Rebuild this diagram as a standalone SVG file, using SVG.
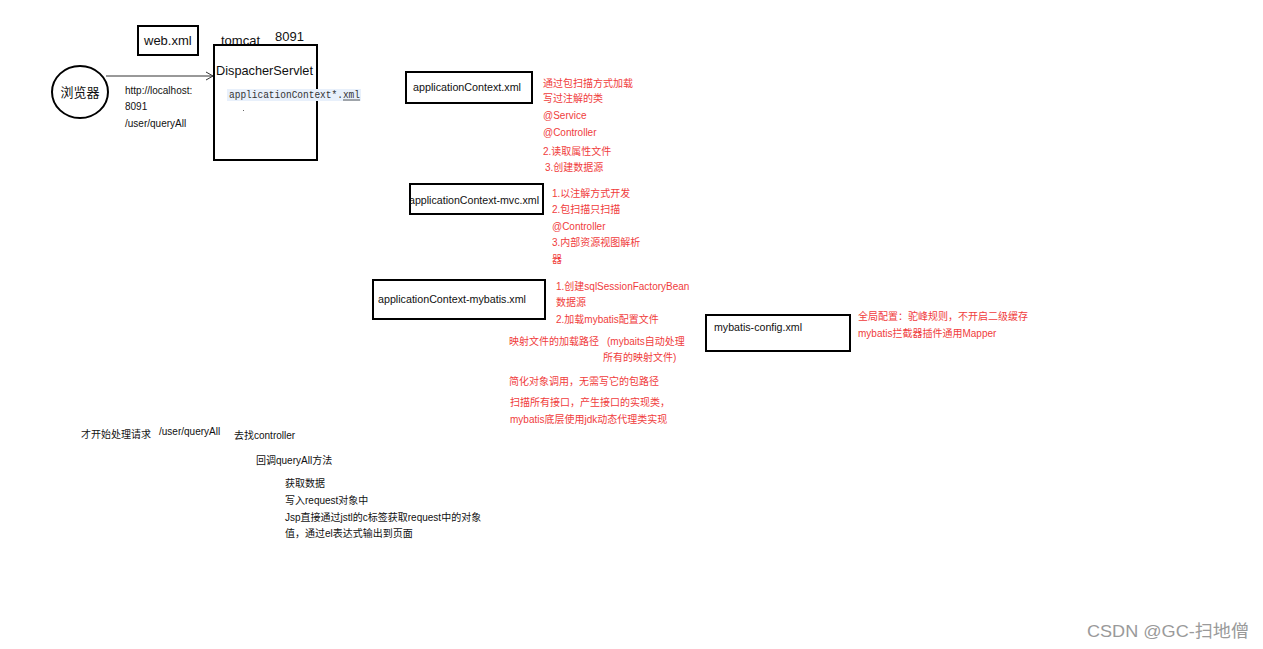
<svg xmlns="http://www.w3.org/2000/svg" width="1263" height="649" viewBox="0 0 1263 649">
<style>
text{font-family:"Liberation Sans","Noto Sans CJK SC",sans-serif;fill:#111}
.box{fill:#fff;stroke:#000;stroke-width:2}
.lb{font-size:11px}
.big{font-size:13px}
.r{font-size:10px;fill:#f03c3c}
.s{font-size:10px}
.mono{font-family:"Liberation Mono","DejaVu Sans Mono",monospace;font-size:10px;fill:#333}
</style>
<rect width="1263" height="649" fill="#fff"/>
<g id="browser">
<ellipse cx="80" cy="92" rx="28" ry="26" fill="#fff" stroke="#000" stroke-width="2"/>
<text x="80" y="97" text-anchor="middle" style="font-size:13px">浏览器</text>
</g>
<g id="webxml">
<rect class="box" x="138" y="26" width="60" height="29"/>
<text class="big" x="144" y="45">web.xml</text>
</g>
<g id="tomcat">
<text class="big" x="221" y="45">tomcat</text>
<text class="big" x="275" y="41">8091</text>
<rect class="box" x="214" y="45" width="103" height="115"/>
<text class="big" x="216" y="75" textLength="97" lengthAdjust="spacingAndGlyphs">DispacherServlet</text>
<rect x="227" y="89" width="134" height="12" fill="#e8f0fb"/>
<text class="mono" x="229" y="98" textLength="131" lengthAdjust="spacingAndGlyphs">applicationContext*.xml</text>
<line x1="343" y1="100" x2="360" y2="100" stroke="#333" stroke-width="0.8"/>
<rect x="243" y="110" width="1" height="1" fill="#666"/>
</g>
<g id="connectors">
<line x1="106" y1="76" x2="213" y2="76" stroke="#333" stroke-width="1"/>
<polyline points="206,72 213,76 206,80" fill="none" stroke="#333" stroke-width="1"/>
</g>
<g id="request-label">
<text class="s" x="125" y="94">http://localhost:</text>
<text class="s" x="125" y="110">8091</text>
<text class="s" x="125" y="127">/user/queryAll</text>
</g>
<g id="appctx">
<rect class="box" x="406" y="72" width="126" height="31"/>
<text class="lb" x="413" y="91" textLength="108" lengthAdjust="spacingAndGlyphs">applicationContext.xml</text>
<text class="r" x="543" y="87">通过包扫描方式加载</text>
<text class="r" x="543" y="102">写过注解的类</text>
<text class="r" x="543" y="119">@Service</text>
<text class="r" x="543" y="136">@Controller</text>
<text class="r" x="543" y="155">2.读取属性文件</text>
<text class="r" x="545" y="171">3.创建数据源</text>
</g>
<g id="appctx-mvc">
<rect class="box" x="410" y="184" width="133" height="30"/>
<text class="lb" x="409" y="204" textLength="130" lengthAdjust="spacingAndGlyphs">applicationContext-mvc.xml</text>
<text class="r" x="552" y="197">1.以注解方式开发</text>
<text class="r" x="552" y="213">2.包扫描只扫描</text>
<text class="r" x="552" y="230">@Controller</text>
<text class="r" x="552" y="246">3.内部资源视图解析</text>
<text class="r" x="552" y="263">器</text>
</g>
<g id="appctx-mybatis">
<rect class="box" x="373" y="280" width="172" height="39"/>
<text class="lb" x="378" y="303" textLength="148" lengthAdjust="spacingAndGlyphs">applicationContext-mybatis.xml</text>
<text class="r" x="556" y="290">1.创建sqlSessionFactoryBean</text>
<text class="r" x="556" y="306">数据源</text>
<text class="r" x="556" y="323">2.加载mybatis配置文件</text>
<text class="r" x="509" y="345">映射文件的加载路径</text>
<text class="r" x="607" y="345">(mybaits自动处理</text>
<text class="r" x="603" y="361">所有的映射文件)</text>
<text class="r" x="509" y="385">简化对象调用，无需写它的包路径</text>
<text class="r" x="510" y="406">扫描所有接口，产生接口的实现类，</text>
<text class="r" x="510" y="423">mybatis底层使用jdk动态代理类实现</text>
</g>
<g id="mybatis-config">
<rect class="box" x="706" y="315" width="144" height="36"/>
<text class="lb" x="714" y="331" textLength="88" lengthAdjust="spacingAndGlyphs">mybatis-config.xml</text>
<text class="r" x="858" y="320">全局配置：驼峰规则，不开启二级缓存</text>
<text class="r" x="858" y="337">mybatis拦截器插件通用Mapper</text>
</g>
<g id="flow-notes">
<text class="s" x="81" y="438">才开始处理请求</text>
<text class="s" x="159" y="435">/user/queryAll</text>
<text class="s" x="234" y="439">去找controller</text>
<text class="s" x="256" y="464">回调queryAll方法</text>
<text class="s" x="285" y="487">获取数据</text>
<text class="s" x="285" y="504">写入request对象中</text>
<text class="s" x="285" y="521">Jsp直接通过jstl的c标签获取request中的对象</text>
<text class="s" x="285" y="537">值，通过el表达式输出到页面</text>
</g>
<text x="1087" y="637" style="font-size:17px;fill:#9a9a9a" textLength="162" lengthAdjust="spacingAndGlyphs">CSDN @GC-扫地僧</text>
</svg>
